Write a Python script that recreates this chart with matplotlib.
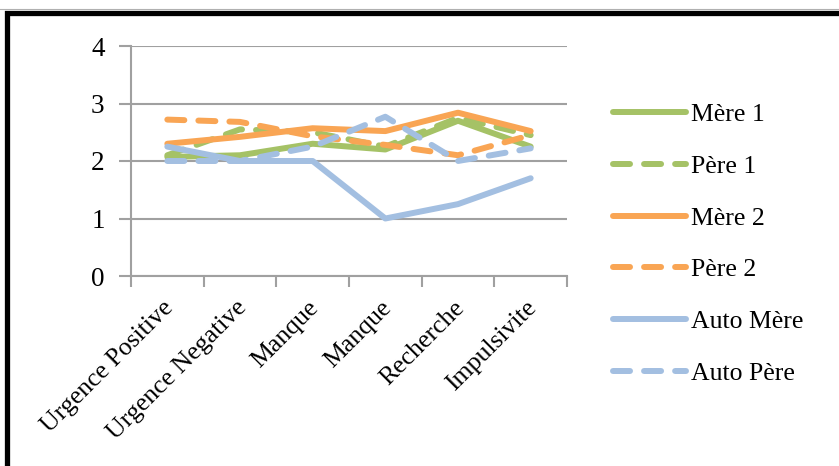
import matplotlib
matplotlib.use("Agg")
import matplotlib.pyplot as plt
from matplotlib.lines import Line2D
from matplotlib.patches import Rectangle
from matplotlib.transforms import ScaledTranslation

categories = ["Urgence Positive", "Urgence Negative", "Manque", "Manque",
              "Recherche", "Impulsivite"]
mere1 = [2.07, 2.1, 2.3, 2.2, 2.7, 2.25]
pere1 = [2.1, 2.55, 2.5, 2.25, 2.75, 2.45]
mere2 = [2.3, 2.42, 2.57, 2.52, 2.84, 2.52]
pere2 = [2.72, 2.68, 2.43, 2.28, 2.1, 2.45]
auto_mere = [2.25, 2.0, 2.0, 1.0, 1.25, 1.7]
auto_pere = [2.0, 2.0, 2.25, 2.77, 2.0, 2.22]

series = [
    ("Mère 1", mere1, "#a5c266", "-"),
    ("Père 1", pere1, "#a5c266", "--"),
    ("Mère 2", mere2, "#f9a554", "-"),
    ("Père 2", pere2, "#f9a554", "--"),
    ("Auto Mère", auto_mere, "#a3bfe1", "-"),
    ("Auto Père", auto_pere, "#a3bfe1", "--"),
]

plt.rcParams["font.family"] = ["Liberation Serif", "DejaVu Serif"]

W, H = 839, 466
fig = plt.figure(figsize=(W / 100, H / 100), dpi=100)
ax = fig.add_axes([131 / W, 1 - 276 / H, (567 - 131) / W, (276 - 46) / H])

x = list(range(len(categories)))
handles = []
for name, vals, color, ls in series:
    kw = dict(color=color, lw=4.3, solid_capstyle="round", solid_joinstyle="round",
              dash_capstyle="round", dash_joinstyle="round")
    if ls == "--":
        kw["dashes"] = (2.85, 2.35)
    ax.plot(x, vals, **kw)
    handles.append(Line2D([0], [0], **kw))

ax.set_xlim(-0.5, len(categories) - 0.5)
ax.set_ylim(0, 4)
ax.set_yticks([0, 1, 2, 3, 4])
ax.yaxis.grid(True, color="#a0a0a0", lw=1.5)
ax.set_axisbelow(True)

# category ticks at boundaries, labels at centers
ax.set_xticks([i - 0.5 for i in range(len(categories) + 1)])
ax.set_xticklabels([])
ax.set_xticks(x, minor=True)
ax.set_xticklabels(categories, minor=True, rotation=45, ha="right",
                   rotation_mode="anchor", fontsize=18.5)
ax.tick_params(axis="x", which="minor", length=0, pad=15)
ax.tick_params(axis="x", which="major", length=8, width=1.5, color="#a0a0a0")
ax.tick_params(axis="y", length=9, width=1.5, color="#a0a0a0", labelsize=19.5, pad=10)
shift = ScaledTranslation(-5 / 100, 0, fig.dpi_scale_trans)
for lbl in ax.get_xticklabels(minor=True):
    lbl.set_transform(lbl.get_transform() + shift)

for s in ["top", "right"]:
    ax.spines[s].set_visible(False)
for s in ["left", "bottom"]:
    ax.spines[s].set_color("#a0a0a0")
    ax.spines[s].set_linewidth(1.5)

fig.legend(handles, [s[0] for s in series], loc="upper left",
           bbox_to_anchor=(613 / W, 1 - 103 / H), frameon=False,
           fontsize=18.5, handlelength=2.84, handletextpad=0.2,
           labelspacing=1.12, borderaxespad=0, borderpad=0)

# outer chart frame
fig.add_artist(Rectangle((6.5 / W, -0.1), 1.2, 1 - 12.5 / H + 0.1,
                         transform=fig.transFigure, fill=False,
                         edgecolor="black", lw=3.8))
fig.add_artist(Line2D([0, 1], [1 - 8.5 / H] * 2, transform=fig.transFigure,
                      color="#b0b0b0", lw=0.8))

fig.savefig("out.png", dpi=100)
